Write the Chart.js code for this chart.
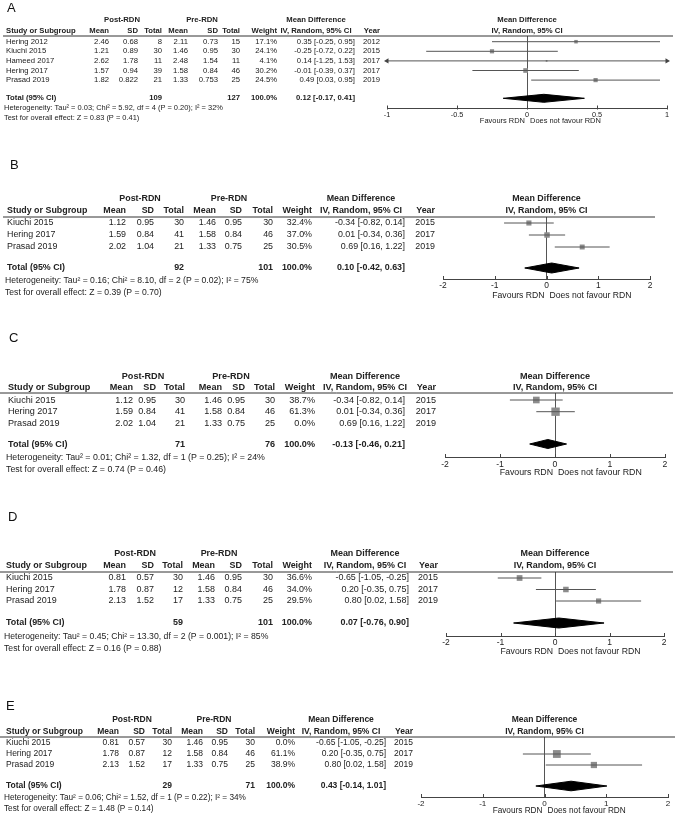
<!DOCTYPE html>
<html>
<head>
<meta charset="utf-8">
<script src="https://cdn.jsdelivr.net/npm/chart.js@4.4.0/dist/chart.umd.min.js"></script>
<style>
  html, body { margin: 0; padding: 0; background: #fff; }
  #wrap { position: relative; width: 675px; height: 817px; overflow: hidden; }
  #wrap canvas { position: absolute; left: 0; top: 0; }
</style>
</head>
<body>
<div id="wrap">
  <canvas id="panelA" width="675" height="817"></canvas>
  <canvas id="panelB" width="675" height="817"></canvas>
  <canvas id="panelC" width="675" height="817"></canvas>
  <canvas id="panelD" width="675" height="817"></canvas>
  <canvas id="panelE" width="675" height="817"></canvas>
</div>
<script>
const FONT = '"Liberation Sans", Arial, sans-serif';

// ---- Panel A ----
const studiesA = ["Hering 2012", "Kiuchi 2015", "Hameed 2017", "Hering 2017", "Prasad 2019"];
const yearsA = [2012, 2015, 2017, 2017, 2019];
const postMeanA = [2.46, 1.21, 2.62, 1.57, 1.82];
const postSdA = [0.68, 0.89, 1.78, 0.94, 0.822];
const postNA = [8, 30, 11, 39, 21];
const preMeanA = [2.11, 1.46, 2.48, 1.58, 1.33];
const preSdA = [0.73, 0.95, 1.54, 0.84, 0.753];
const preNA = [15, 30, 11, 46, 25];
const weightA = [17.1, 24.1, 4.1, 30.2, 24.5];
const mdA = [0.35, -0.25, 0.14, -0.01, 0.49];
const loA = [-0.25, -0.72, -1.25, -0.39, 0.03];
const hiA = [0.95, 0.22, 1.53, 0.37, 0.95];
const totalNA = [109, 127];
const pooledA = [0.12, -0.17, 0.41];
const hetA = "Heterogeneity: Tau² = 0.03; Chi² = 5.92, df = 4 (P = 0.20); I² = 32%";
const testA = "Test for overall effect: Z = 0.83 (P = 0.41)";
const ticksA = [-1, -0.5, 0, 0.5, 1];

// ---- Panels B and C (same three studies) ----
const studiesBC = ["Kiuchi 2015", "Hering 2017", "Prasad 2019"];
const yearsBC = [2015, 2017, 2019];
const postMeanBC = [1.12, 1.59, 2.02];
const postSdBC = [0.95, 0.84, 1.04];
const postNBC = [30, 41, 21];
const preMeanBC = [1.46, 1.58, 1.33];
const preSdBC = [0.95, 0.84, 0.75];
const preNBC = [30, 46, 25];
const mdBC = [-0.34, 0.01, 0.69];
const loBC = [-0.82, -0.34, 0.16];
const hiBC = [0.14, 0.36, 1.22];

const weightB = [32.4, 37.0, 30.5];
const totalNB = [92, 101];
const pooledB = [0.10, -0.42, 0.63];
const hetB = "Heterogeneity: Tau² = 0.16; Chi² = 8.10, df = 2 (P = 0.02); I² = 75%";
const testB = "Test for overall effect: Z = 0.39 (P = 0.70)";

const weightC = [38.7, 61.3, 0.0];
const totalNC = [71, 76];
const pooledC = [-0.13, -0.46, 0.21];
const hetC = "Heterogeneity: Tau² = 0.01; Chi² = 1.32, df = 1 (P = 0.25); I² = 24%";
const testC = "Test for overall effect: Z = 0.74 (P = 0.46)";

// ---- Panels D and E (same three studies) ----
const studiesDE = ["Kiuchi 2015", "Hering 2017", "Prasad 2019"];
const yearsDE = [2015, 2017, 2019];
const postMeanDE = [0.81, 1.78, 2.13];
const postSdDE = [0.57, 0.87, 1.52];
const postNDE = [30, 12, 17];
const preMeanDE = [1.46, 1.58, 1.33];
const preSdDE = [0.95, 0.84, 0.75];
const preNDE = [30, 46, 25];
const mdDE = [-0.65, 0.20, 0.80];
const loDE = [-1.05, -0.35, 0.02];
const hiDE = [-0.25, 0.75, 1.58];

const weightD = [36.6, 34.0, 29.5];
const totalND = [59, 101];
const pooledD = [0.07, -0.76, 0.90];
const hetD = "Heterogeneity: Tau² = 0.45; Chi² = 13.30, df = 2 (P = 0.001); I² = 85%";
const testD = "Test for overall effect: Z = 0.16 (P = 0.88)";

const weightE = [0.0, 61.1, 38.9];
const totalNE = [29, 71];
const pooledE = [0.43, -0.14, 1.01];
const hetE = "Heterogeneity: Tau² = 0.06; Chi² = 1.52, df = 1 (P = 0.22); I² = 34%";
const testE = "Test for overall effect: Z = 1.48 (P = 0.14)";

const ticksWide = [-2, -1, 0, 1, 2];

// page layout of each panel (pixels)
const layoutA = { letter: "A", letterX: 7, letterY: 8, lineX0: 3, lineX1: 673, lineY: 36, hdr1: 20, hdr2: 30.5,
  row0: 41.7, pitch: 9.6, totalY: 98.3, axisY: 108.5, hetY: 108.3, testY: 118, favY: 120.5,
  x0: 387, x1: 667, font: 7.7, studyX: 6, cols: [109, 138, 162, 188, 218, 240, 277, 355, 380],
  postC: 122, preC: 202, mdC: 316, k: 0.85, diaH: 4 };
const layoutB = { letter: "B", letterX: 10, letterY: 165, lineX0: 3, lineX1: 655, lineY: 217, hdr1: 199, hdr2: 211,
  row0: 223, pitch: 12, totalY: 268, axisY: 279, hetY: 281, testY: 293, favY: 295.5,
  x0: 443, x1: 650, font: 8.9, studyX: 7, cols: [126, 154, 184, 216, 242, 273, 312, 405, 435],
  postC: 140, preC: 229, mdC: 361, k: 0.9, diaH: 5 };
const layoutC = { letter: "C", letterX: 9, letterY: 338, lineX0: 0, lineX1: 673, lineY: 393, hdr1: 376, hdr2: 387,
  row0: 400, pitch: 11.7, totalY: 444, axisY: 457, hetY: 458, testY: 470, favY: 473,
  x0: 445, x1: 665, font: 9.1, studyX: 8, cols: [133, 156, 185, 222, 245, 275, 315, 405, 436],
  postC: 143, preC: 231, mdC: 365, k: 1.07, diaH: 4.5 };
const layoutD = { letter: "D", letterX: 8, letterY: 517, lineX0: 0, lineX1: 673, lineY: 572, hdr1: 554, hdr2: 566,
  row0: 578, pitch: 11.5, totalY: 623, axisY: 636, hetY: 637, testY: 648.5, favY: 652,
  x0: 446, x1: 664, font: 8.95, studyX: 6, cols: [126, 154, 183, 215, 242, 273, 312, 409, 438],
  postC: 135, preC: 219, mdC: 365, k: 0.95, diaH: 5 };
const layoutE = { letter: "E", letterX: 6, letterY: 706, lineX0: 0, lineX1: 675, lineY: 737, hdr1: 720, hdr2: 732,
  row0: 743, pitch: 11, totalY: 786, axisY: 797, hetY: 798, testY: 809, favY: 810.5,
  x0: 421, x1: 668, font: 8.5, studyX: 6, cols: [119, 145, 172, 203, 228, 255, 295, 386, 413],
  postC: 132, preC: 214, mdC: 341, k: 1.0, diaH: 4.8 };

const AXIS_H = 14;
const PAGE_H = 817, PAGE_W = 675;

function ci(est, lo, hi) {
  return est.toFixed(2) + " [" + lo.toFixed(2) + ", " + hi.toFixed(2) + "]";
}

// draws the table, headers and footer text next to the plot
function tablePlugin(d, L) {
  return {
    id: "forestTable",
    afterDraw(chart) {
      const ctx = chart.ctx, x = chart.scales.x, y = chart.scales.y;
      const put = (s, px, py, align, bold, size, color) => {
        ctx.font = (bold ? "bold " : "") + (size || L.font) + "px " + FONT;
        ctx.textAlign = align;
        ctx.textBaseline = "middle";
        ctx.fillStyle = color || "#222";
        ctx.fillText(s, px, py);
      };
      const c = L.cols;
      ctx.save();
      put(L.letter, L.letterX, L.letterY, "left", false, 13, "#111");

      // headers
      put("Post-RDN", L.postC, L.hdr1, "center", true);
      put("Pre-RDN", L.preC, L.hdr1, "center", true);
      put("Mean Difference", L.mdC, L.hdr1, "center", true);
      put("Study or Subgroup", L.studyX, L.hdr2, "left", true);
      ["Mean", "SD", "Total", "Mean", "SD", "Total", "Weight"].forEach((h, i) => put(h, c[i], L.hdr2, "right", true));
      put("IV, Random, 95% CI", L.mdC, L.hdr2, "center", true);
      put("Year", c[8], L.hdr2, "right", true);
      const zx = x.getPixelForValue(0);
      put("Mean Difference", zx, L.hdr1, "center", true);
      put("IV, Random, 95% CI", zx, L.hdr2, "center", true);

      ctx.strokeStyle = "#333";
      ctx.lineWidth = 1;
      ctx.beginPath();
      ctx.moveTo(L.lineX0, L.lineY);
      ctx.lineTo(L.lineX1, L.lineY);
      ctx.stroke();

      // study rows
      d.studies.forEach((s, i) => {
        const py = y.getPixelForValue(i);
        put(s, L.studyX, py, "left");
        put(String(d.postMean[i]), c[0], py, "right");
        put(String(d.postSd[i]), c[1], py, "right");
        put(String(d.postN[i]), c[2], py, "right");
        put(String(d.preMean[i]), c[3], py, "right");
        put(String(d.preSd[i]), c[4], py, "right");
        put(String(d.preN[i]), c[5], py, "right");
        put(d.weight[i].toFixed(1) + "%", c[6], py, "right");
        put(ci(d.md[i], d.lo[i], d.hi[i]), c[7], py, "right");
        put(String(d.years[i]), c[8], py, "right");
      });

      // total row
      const ty = y.getPixelForValue(d.totalRow);
      put("Total (95% CI)", L.studyX, ty, "left", true);
      put(String(d.totalN[0]), c[2], ty, "right", true);
      put(String(d.totalN[1]), c[5], ty, "right", true);
      put("100.0%", c[6], ty, "right", true);
      put(ci(d.pooled[0], d.pooled[1], d.pooled[2]), c[7], ty, "right", true);
      put(d.het, L.studyX - 2, L.hetY, "left", false, L.font * 0.97);
      put(d.test, L.studyX - 2, L.testY, "left", false, L.font * 0.97);

      // axis ticks pointing up and the favours labels
      ctx.strokeStyle = "#444";
      x.ticks.forEach(t => {
        const px = Math.round(x.getPixelForValue(t.value)) + 0.5;
        ctx.beginPath();
        ctx.moveTo(px, x.top - 3);
        ctx.lineTo(px, x.top + 1);
        ctx.stroke();
      });
      put("Favours RDN", zx - 2, L.favY, "right", false, L.font * 0.97);
      put("Does not favour RDN", zx + 3, L.favY, "left", false, L.font * 0.97);
      ctx.restore();
    }
  };
}

function drawPanel(id, d, L, tickVals) {
  const xmin = tickVals[0], xmax = tickVals[tickVals.length - 1];
  const ymin = -(L.row0 - L.lineY) / L.pitch;
  const ymax = (L.axisY - L.row0) / L.pitch;
  d.totalRow = (L.totalY - L.row0) / L.pitch;
  const dh = L.diaH / L.pitch;

  const datasets = [];
  d.studies.forEach((s, i) => {
    if (d.weight[i] <= 0) return;
    const lo = Math.max(d.lo[i], xmin), hi = Math.min(d.hi[i], xmax);
    datasets.push({
      label: s + " CI",
      data: [{ x: lo, y: i }, { x: hi, y: i }],
      showLine: true,
      borderColor: "#555",
      borderWidth: 1,
      pointStyle: "triangle",
      pointRadius: [d.lo[i] < xmin ? 3 : 0, d.hi[i] > xmax ? 3 : 0],
      pointRotation: [-90, 90],
      pointBackgroundColor: "#444",
      pointBorderWidth: 0,
      clip: false
    });
  });
  const shown = d.studies.map((s, i) => i).filter(i => d.weight[i] > 0);
  datasets.push({
    label: "Study estimate",
    data: shown.map(i => ({ x: d.md[i], y: i })),
    pointStyle: "rect",
    pointRadius: shown.map(i => L.k * Math.sqrt(d.weight[i]) / Math.SQRT2),
    backgroundColor: "#8c8c8c",
    borderWidth: 0,
    clip: false
  });
  const t = d.totalRow;
  datasets.push({
    label: "Pooled",
    data: [
      { x: d.pooled[1], y: t }, { x: d.pooled[0], y: t - dh },
      { x: d.pooled[2], y: t }, { x: d.pooled[0], y: t + dh },
      { x: d.pooled[1], y: t }
    ],
    showLine: true,
    fill: "shape",
    backgroundColor: "#000",
    borderColor: "#000",
    borderWidth: 1,
    pointRadius: 0,
    clip: false
  });

  new Chart(document.getElementById(id), {
    type: "scatter",
    data: { datasets },
    options: {
      responsive: false,
      animation: false,
      events: [],
      layout: {
        padding: { left: L.x0, right: PAGE_W - L.x1, top: L.lineY, bottom: PAGE_H - L.axisY - AXIS_H }
      },
      plugins: { legend: { display: false }, tooltip: { enabled: false } },
      scales: {
        x: {
          type: "linear",
          min: xmin,
          max: xmax,
          afterBuildTicks: s => { s.ticks = tickVals.map(v => ({ value: v })); },
          afterFit: s => { s.height = AXIS_H; },
          grid: {
            color: c => (c.tick && c.tick.value === 0 ? "#555" : "rgba(0,0,0,0)"),
            drawTicks: false,
            lineWidth: 1
          },
          border: { display: true, color: "#444", width: 1 },
          ticks: {
            autoSkip: false,
            maxRotation: 0,
            padding: 2,
            color: "#222",
            font: { family: FONT, size: L.font * 0.95 },
            callback: v => String(v)
          }
        },
        y: { type: "linear", reverse: true, min: ymin, max: ymax, display: false }
      }
    },
    plugins: [tablePlugin(d, L)]
  });
}

drawPanel("panelA", {
  studies: studiesA, years: yearsA, postMean: postMeanA, postSd: postSdA, postN: postNA,
  preMean: preMeanA, preSd: preSdA, preN: preNA, weight: weightA, md: mdA, lo: loA, hi: hiA,
  totalN: totalNA, pooled: pooledA, het: hetA, test: testA
}, layoutA, ticksA);

drawPanel("panelB", {
  studies: studiesBC, years: yearsBC, postMean: postMeanBC, postSd: postSdBC, postN: postNBC,
  preMean: preMeanBC, preSd: preSdBC, preN: preNBC, weight: weightB, md: mdBC, lo: loBC, hi: hiBC,
  totalN: totalNB, pooled: pooledB, het: hetB, test: testB
}, layoutB, ticksWide);

drawPanel("panelC", {
  studies: studiesBC, years: yearsBC, postMean: postMeanBC, postSd: postSdBC, postN: postNBC,
  preMean: preMeanBC, preSd: preSdBC, preN: preNBC, weight: weightC, md: mdBC, lo: loBC, hi: hiBC,
  totalN: totalNC, pooled: pooledC, het: hetC, test: testC
}, layoutC, ticksWide);

drawPanel("panelD", {
  studies: studiesDE, years: yearsDE, postMean: postMeanDE, postSd: postSdDE, postN: postNDE,
  preMean: preMeanDE, preSd: preSdDE, preN: preNDE, weight: weightD, md: mdDE, lo: loDE, hi: hiDE,
  totalN: totalND, pooled: pooledD, het: hetD, test: testD
}, layoutD, ticksWide);

drawPanel("panelE", {
  studies: studiesDE, years: yearsDE, postMean: postMeanDE, postSd: postSdDE, postN: postNDE,
  preMean: preMeanDE, preSd: preSdDE, preN: preNDE, weight: weightE, md: mdDE, lo: loDE, hi: hiDE,
  totalN: totalNE, pooled: pooledE, het: hetE, test: testE
}, layoutE, ticksWide);
</script>
</body>
</html>
